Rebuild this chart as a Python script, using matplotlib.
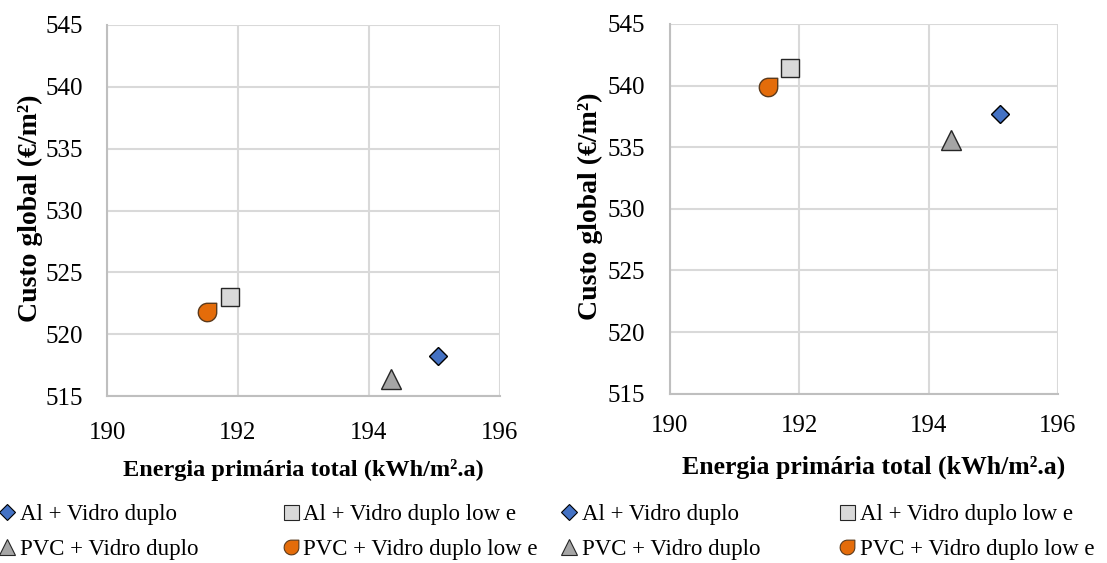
import matplotlib
matplotlib.use("Agg")
import matplotlib.pyplot as plt
from matplotlib.path import Path
import numpy as np

plt.rcParams['font.family'] = ['Liberation Serif', 'DejaVu Serif']

# data
series = ["Al + Vidro duplo", "Al + Vidro duplo low e",
          "PVC + Vidro duplo", "PVC + Vidro duplo low e"]
energia_a = [195.06, 191.87, 194.33, 191.52]
custo_a = [518.2, 523.0, 516.4, 521.8]
energia_b = [195.10, 191.85, 194.34, 191.51]
custo_b = [537.7, 541.4, 535.6, 539.9]
xticks = [190, 192, 194, 196]
yticks = [515, 520, 525, 530, 535, 540, 545]

# teardrop marker: circle with square top-right corner
arc = Path.arc(90, 360)
verts = np.vstack([arc.vertices, [[1, 1], [0, 1], [0, 1]]])
codes = list(arc.codes) + [Path.LINETO, Path.LINETO, Path.CLOSEPOLY]
drop = Path(verts, codes)

styles = [
    dict(marker='D', markersize=9.6, markerfacecolor='#4472C4', markeredgecolor='black'),
    dict(marker='s', markersize=13.5, markerfacecolor='#D9D9D9', markeredgecolor='#262626'),
    dict(marker='^', markersize=14, markerfacecolor='#A5A5A5', markeredgecolor='#262626'),
    dict(marker=drop, markersize=13.5, markerfacecolor='#E46C0A', markeredgecolor='#5b3a1c'),
]

fig = plt.figure(figsize=(11.07, 5.63), dpi=100)
ax1 = fig.add_axes([0.0967, 0.2966, 0.355, 0.659])
ax2 = fig.add_axes([0.6052, 0.3007, 0.3505, 0.6567])

# ax, x, y, xlabel y, xlabel x, xlabel size, ylabel x, ytick pad, xtick pad, legend column x
label_cfg = [
    (ax1, energia_a, custo_a, -0.2, 0.5, 17.5, -0.196, 17, 19, [0.0, 0.2557]),
    (ax2, energia_b, custo_b, -0.198, 0.526, 18.5, -0.206, 18, 15, [0.5077, 0.7588]),
]

for ax, ex, cy, xl_y, xl_x, xl_size, yl_x, ypad, xpad, leg_x in label_cfg:
    for i in range(len(series)):
        ax.plot([ex[i]], [cy[i]], linestyle='none', markeredgewidth=1.0,
                label=series[i], zorder=3, **styles[i])
    ax.set_xlim(190, 196)
    ax.set_ylim(515, 545)
    ax.set_xticks(xticks)
    ax.set_yticks(yticks)
    ax.grid(True, color='#D9D9D9', linewidth=1.5)
    ax.set_axisbelow(True)
    for s in ['top', 'right']:
        ax.spines[s].set_visible(False)
    for s in ['left', 'bottom']:
        ax.spines[s].set_color('#BFBFBF')
        ax.spines[s].set_linewidth(1.5)
    ax.tick_params(axis='both', length=0, labelsize=18)
    ax.tick_params(axis='y', pad=ypad)
    ax.tick_params(axis='x', pad=xpad)
    ax.set_xlabel("Energia primária total (kWh/m².a)", fontsize=xl_size,
                  fontweight='bold', va='center')
    ax.xaxis.set_label_coords(xl_x, xl_y)
    ax.set_ylabel("Custo global (€/m²)", fontsize=20, fontweight='bold',
                  va='center', ha='center')
    ax.yaxis.set_label_coords(yl_x, 0.506)

    # legend: two columns, each placed on its own
    for col, idx in enumerate([[0, 2], [1, 3]]):
        leg_handles = []
        for k in idx:
            st = dict(styles[k])
            st['markersize'] = st['markersize'] * 0.8
            lh, = ax.plot([], [], linestyle='none', markeredgewidth=0.8, **st)
            leg_handles.append(lh)
        fig.legend(leg_handles, [series[k] for k in idx],
                   loc='upper left', bbox_to_anchor=(leg_x[col], 0.105),
                   frameon=False, fontsize=16.5, handlelength=0.65,
                   handletextpad=0.22, labelspacing=0.62,
                   borderpad=0, borderaxespad=0)

fig.savefig("out.png", dpi=100)
